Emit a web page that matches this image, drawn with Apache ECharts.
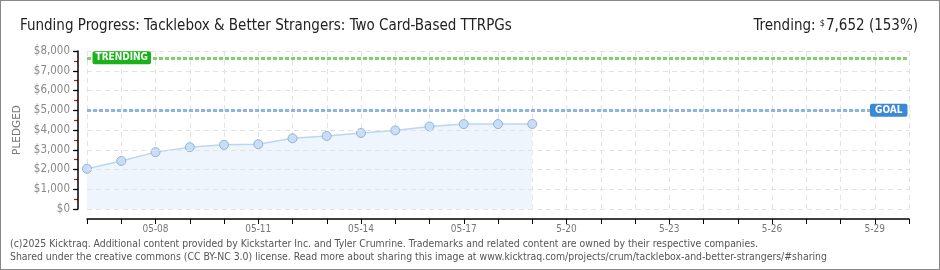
<!DOCTYPE html>
<html><head><meta charset="utf-8">
<script src="https://cdn.jsdelivr.net/npm/echarts@6/dist/echarts.min.js"></script>
<style>
html,body{margin:0;padding:0;background:#fff;}
#c{width:938px;height:268px;border:1px solid #888;}
</style></head>
<body><div id="c"></div>
<script>
const categories = ['05-06','05-07','05-08','05-09','05-10','05-11','05-12','05-13','05-14','05-15','05-16','05-17','05-18','05-19','05-20','05-21','05-22','05-23','05-24','05-25','05-26','05-27','05-28','05-29','05-30'];
const tickLabels = {'05-08':'05-08','05-11':'05-11','05-14':'05-14','05-17':'05-17','05-20':'5-20','05-23':'5-23','05-26':'5-26','05-29':'5-29'};
const pledged = [2040, 2435, 2880, 3130, 3250, 3280, 3580, 3700, 3850, 3980, 4180, 4300, 4300, 4305];
const goal = 5000;
const trending = 7652;
const yTicks = [0, 1000, 2000, 3000, 4000, 5000, 6000, 7000, 8000];

const chart = echarts.init(document.getElementById('c'));
const pix = 'DejaVu Sans Condensed';
chart.setOption({
  animation: false,
  title: [{
    text: 'Funding Progress: Tacklebox & Better Strangers: Two Card-Based TTRPGs',
    left: 14, top: 13,
    textStyle: {fontFamily: pix, fontSize: 15, fontWeight: 'normal', color: '#222'}
  }, {
    text: '{l|Trending: }{s|$}{l|7,652 (153%)}',
    right: 16, top: 13,
    textStyle: {rich: {
      l: {fontFamily: pix, fontSize: 15, fontWeight: 'normal', color: '#222'},
      s: {fontFamily: pix, fontSize: 9, fontWeight: 'normal', color: '#222', verticalAlign: 'top', padding: [0, 1, 6, 0]}
    }}
  }],
  grid: {left: 86, right: 30, top: 50, bottom: 60},
  xAxis: {
    type: 'category', data: categories, boundaryGap: false, offset: 10,
    axisLine: {onZero: false, lineStyle: {color: '#000', width: 1.5}},
    axisTick: {show: true, interval: 0, length: 5, lineStyle: {color: '#000'}},
    axisLabel: {interval: 0, margin: 5, color: '#777', fontFamily: pix, fontSize: 10,
      formatter: v => tickLabels[v] || ''},
    splitLine: {show: true, interval: 0, lineStyle: {color: '#e3e3e3', type: [5, 4]}}
  },
  yAxis: [{
    type: 'value', min: 0, max: 8000, interval: 500, offset: 9, position: 'left',
    axisLine: {show: false},
    axisTick: {show: true, length: 4, lineStyle: {color: '#e00', width: 1.2}},
    axisLabel: {show: false},
    splitLine: {show: false}
  }, {
    type: 'value', min: 0, max: 8000, interval: 1000, offset: 9, position: 'left', z: 5,
    name: 'PLEDGED', nameLocation: 'middle', nameRotate: 90, nameGap: 54,
    nameTextStyle: {color: '#777', fontFamily: 'DejaVu Sans', fontSize: 10.5},
    axisLine: {show: true, lineStyle: {color: '#000', width: 1.5}},
    axisTick: {show: true, length: 5, lineStyle: {color: '#000', width: 1.2}},
    axisLabel: {margin: 8, color: '#888', fontFamily: pix, fontSize: 11.5,
      formatter: v => '$' + v.toLocaleString('en-US')},
    splitLine: {show: true, lineStyle: {color: '#e3e3e3', type: [5, 4]}}
  }],
  series: [{
    type: 'line', data: pledged, yAxisIndex: 1,
    symbol: 'circle', symbolSize: 9,
    itemStyle: {color: '#c8ddf6', borderColor: '#93b3d8', borderWidth: 1},
    lineStyle: {color: '#bcd6f2', width: 1.5},
    areaStyle: {color: '#eef5fd', opacity: 1},
    markLine: {
      silent: true, symbol: 'none',
      data: [
        {yAxis: goal, lineStyle: {color: '#8fb4e0', width: 3, type: [4, 2]},
          label: {show: true, position: 'end', formatter: 'GOAL', offset: [-44, 0],
            backgroundColor: '#3a88d8', color: '#fff', fontFamily: pix, fontSize: 10, fontWeight: 'bold',
            padding: [2, 5, 1, 5], borderRadius: 2}},
        {yAxis: trending, lineStyle: {color: '#7dd06c', width: 3, type: [4, 2]},
          label: {show: true, position: 'start', formatter: 'TRENDING', offset: [69, 0],
            backgroundColor: '#19b319', color: '#fff', fontFamily: pix, fontSize: 10, fontWeight: 'bold',
            padding: [2, 3, 1, 3], borderRadius: 2}}
      ]
    }
  }],
  graphic: [{
    type: 'text', left: 9, top: 237,
    style: {text: '(c)2025 Kicktraq. Additional content provided by Kickstarter Inc. and Tyler Crumrine. Trademarks and related content are owned by their respective companies.\nShared under the creative commons (CC BY-NC 3.0) license. Read more about sharing this image at www.kicktraq.com/projects/crum/tacklebox-and-better-strangers/#sharing',
      fontFamily: pix, fontSize: 10.4, lineHeight: 13, fill: '#555'}
  }]
});
</script></body></html>
